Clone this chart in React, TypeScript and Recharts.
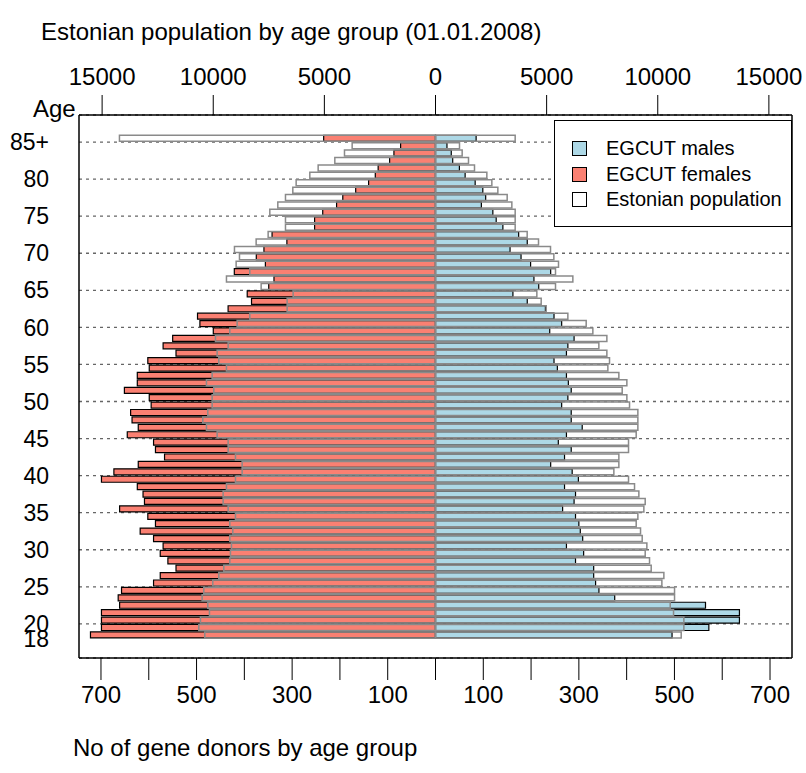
import { BarChart, Bar, XAxis, YAxis, CartesianGrid } from "recharts";

const FONT = "'Liberation Sans', Arial, Helvetica, sans-serif";

// one-year age groups, oldest first (85 = "85+")
const AGES = [
  85, 84, 83, 82, 81, 80, 79, 78, 77, 76, 75, 74, 73, 72, 71, 70, 69, 68, 67, 66, 65, 64,
  63, 62, 61, 60, 59, 58, 57, 56, 55, 54, 53, 52, 51, 50, 49, 48, 47, 46, 45, 44, 43, 42,
  41, 40, 39, 38, 37, 36, 35, 34, 33, 32, 31, 30, 29, 28, 27, 26, 25, 24, 23, 22, 21, 20,
  19, 18,
];

// EGCUT gene donors (bottom axis)
const FEMALE_DONORS = [
  234, 73, 87, 96, 120, 126, 140, 167, 194, 207, 236, 253, 253, 342, 311, 359, 375, 356, 421, 338, 349, 394,
  385, 434, 498, 493, 465, 550, 570, 543, 602, 599, 624, 624, 651, 599, 595, 638, 635, 622, 645, 590,
  586, 567, 622, 673, 699, 624, 612, 609, 661, 602, 586, 618, 590, 570, 576, 560, 543, 576, 590, 657,
  664, 661, 699, 699, 699, 722,
];
const MALE_DONORS = [
  85, 24, 33, 36, 50, 62, 83, 99, 105, 96, 120, 127, 141, 174, 192, 156, 179, 199, 241, 206, 216, 162,
  192, 230, 248, 264, 239, 290, 277, 274, 248, 255, 274, 278, 284, 277, 264, 284, 284, 307, 274, 257,
  284, 270, 241, 286, 299, 270, 293, 290, 266, 293, 300, 303, 308, 274, 310, 293, 331, 331, 335, 342,
  375, 565, 636, 636, 572, 495,
];

// Estonian population 01.01.2008 (top axis)
const FEMALE_POP = [
  14220, 3750, 4095, 4530, 5280, 5655, 6270, 6420, 6750, 7095, 7455, 6750, 6750, 7530, 8070, 9045, 8820,
  8970, 8355, 9405, 7845, 6405, 6675, 6675, 8355, 8925, 9255, 9900, 9330, 9825, 9750, 9405, 10050, 10305,
  9975, 10050, 10050, 10245, 10470, 10305, 9825, 9330, 9330, 9000, 8700, 8700, 9000, 9405, 9555, 9555,
  9330, 9000, 9255, 9120, 9255, 9180, 9225, 9255, 9525, 9750, 10020, 10425, 10500, 10245, 10170, 10575,
  10650, 10380,
];
const MALE_POP = [
  3585, 1080, 1200, 1485, 1755, 2310, 2535, 2805, 3225, 3435, 3585, 3585, 3585, 4125, 4635, 5175, 5325,
  5535, 5400, 6180, 5400, 4560, 4755, 4980, 5955, 6780, 7080, 7710, 7350, 7710, 7830, 7755, 8250, 8610,
  8400, 8610, 8730, 9105, 9105, 9105, 9030, 8685, 8685, 8250, 8250, 8025, 8685, 8955, 9150, 9435, 9375,
  9105, 9030, 9225, 9300, 9510, 9435, 9630, 9705, 10275, 10185, 10755, 10755, 10560, 10710, 11175, 11175,
  11055,
];

const AGE_TICKS = [85, 80, 75, 70, 65, 60, 55, 50, 45, 40, 35, 30, 25, 20, 18];
const DONOR_TICKS = [-700, -600, -500, -400, -300, -200, -100, 0, 100, 200, 300, 400, 500, 600, 700];
const POP_TICKS = [-15000, -10000, -5000, 0, 5000, 10000, 15000];

const LEGEND = [
  { label: "EGCUT males", fill: "#add8e6" },
  { label: "EGCUT females", fill: "#fa8072" },
  { label: "Estonian population", fill: "#ffffff" },
];

const data = AGES.map((age, i) => ({
  age,
  fD: -FEMALE_DONORS[i],
  mD: MALE_DONORS[i],
  fP: -FEMALE_POP[i],
  mP: MALE_POP[i],
}));

// the original puts age labels (and the dotted lines) half a year under the bar centre
const ageTickPos = AGE_TICKS.map((a) => a - 0.5);
const gridPos = AGE_TICKS.filter((a) => a !== 18).map((a) => a - 0.5);
const ageLabel = (v: number) => (v + 0.5 === 85 ? "85+" : String(v + 0.5));

const Y_DOMAIN = [14.9, 88.15];
const tickStyle = { fontSize: 24, fill: "#000", fontFamily: FONT };
const axisLine = { stroke: "#000", strokeWidth: 1.5 };

export default function App() {
  return (
    <div style={{ position: "absolute", left: 0, top: 0, width: 806, height: 773, background: "#fff", fontFamily: FONT }}>
      <BarChart
        width={806}
        height={773}
        data={data}
        layout="vertical"
        stackOffset="sign"
        barCategoryGap="8%"
        margin={{ top: 55, right: 13, bottom: 55, left: 0 }}
      >
        <CartesianGrid
          xAxisId="d"
          yAxisId="p"
          vertical={false}
          stroke="#666"
          strokeWidth={1.3}
          strokeDasharray="3 4"
        />
        <XAxis
          xAxisId="d"
          type="number"
          orientation="bottom"
          domain={[-746, 746]}
          allowDataOverflow
          ticks={DONOR_TICKS}
          interval={0}
          tickFormatter={(v: number) => (Math.abs(v) % 200 === 100 ? String(Math.abs(v)) : "")}
          height={60}
          tickSize={22}
          tickMargin={6}
          tick={tickStyle}
          tickLine={{ stroke: "#000" }}
          axisLine={axisLine}
        />
        <XAxis
          xAxisId="p"
          type="number"
          orientation="top"
          domain={[-16040, 16040]}
          allowDataOverflow
          ticks={POP_TICKS}
          interval={0}
          tickFormatter={(v: number) => String(Math.abs(v))}
          height={60}
          tickSize={20}
          tickMargin={10}
          tick={tickStyle}
          tickLine={{ stroke: "#000" }}
          axisLine={axisLine}
        />
        <YAxis
          yAxisId="d"
          type="number"
          dataKey="age"
          reversed
          domain={Y_DOMAIN}
          allowDataOverflow
          ticks={ageTickPos}
          interval={0}
          tickFormatter={ageLabel}
          width={79}
          tickSize={20}
          tickMargin={10}
          tickLine={false}
          tick={{ ...tickStyle, fontSize: 23 }}
          axisLine={axisLine}
        />
        <YAxis
          yAxisId="p"
          type="number"
          dataKey="age"
          orientation="right"
          reversed
          domain={Y_DOMAIN}
          allowDataOverflow
          ticks={gridPos}
          interval={0}
          width={1}
          tickSize={0}
          tickFormatter={() => ""}
          tick={{ fontSize: 1, fill: "none" }}
          tickLine={false}
          axisLine={axisLine}
        />
        <Bar xAxisId="d" yAxisId="d" dataKey="fD" stackId="d" fill="#fa8072" stroke="#000" strokeWidth={1.2} isAnimationActive={false} />
        <Bar xAxisId="d" yAxisId="d" dataKey="mD" stackId="d" fill="#add8e6" stroke="#000" strokeWidth={1.2} isAnimationActive={false} />
        <Bar xAxisId="p" yAxisId="p" dataKey="fP" stackId="p" fill="none" stroke="#8a8a8a" strokeWidth={1.5} isAnimationActive={false} />
        <Bar xAxisId="p" yAxisId="p" dataKey="mP" stackId="p" fill="none" stroke="#8a8a8a" strokeWidth={1.5} isAnimationActive={false} />
      </BarChart>

      <div style={{ position: "absolute", left: 41, top: 20, fontSize: 24, lineHeight: "24px", whiteSpace: "nowrap" }}>
        Estonian population by age group (01.01.2008)
      </div>
      <div style={{ position: "absolute", left: 33, top: 97, fontSize: 24, lineHeight: "24px" }}>Age</div>
      <div style={{ position: "absolute", left: 73, top: 736, fontSize: 24, lineHeight: "24px", whiteSpace: "nowrap" }}>
        No of gene donors by age group
      </div>

      <div
        style={{
          position: "absolute",
          left: 554,
          top: 120,
          width: 238,
          height: 107,
          boxSizing: "border-box",
          border: "1.5px solid #000",
          background: "#fff",
        }}
      >
        {LEGEND.map((item, i) => (
          <div key={item.label}>
            <div
              style={{
                position: "absolute",
                left: 17,
                top: 20 + i * 25.7,
                width: 15,
                height: 15,
                boxSizing: "border-box",
                border: "1.3px solid #000",
                background: item.fill,
              }}
            />
            <div
              style={{
                position: "absolute",
                left: 51,
                top: 17 + i * 25.7,
                fontSize: 20,
                lineHeight: "20px",
                whiteSpace: "nowrap",
              }}
            >
              {item.label}
            </div>
          </div>
        ))}
      </div>
    </div>
  );
}
